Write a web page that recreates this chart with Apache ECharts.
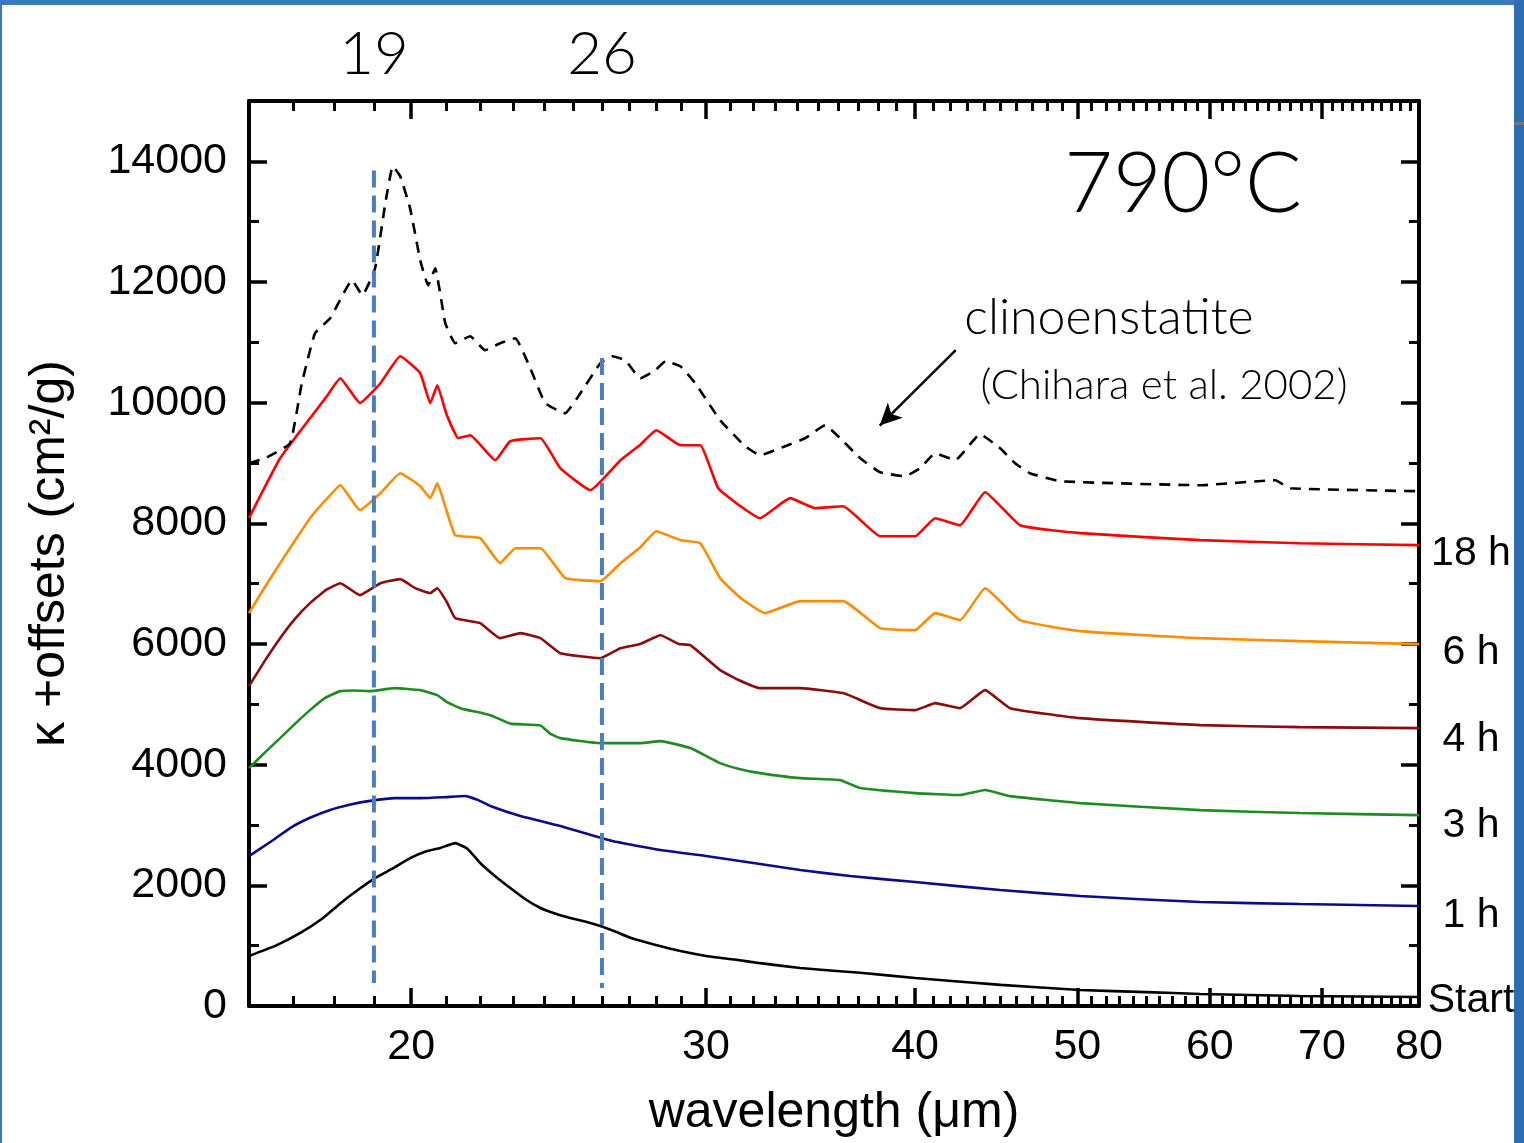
<!DOCTYPE html>
<html>
<head>
<meta charset="utf-8">
<title>790°C κ spectra</title>
<script src="https://cdn.jsdelivr.net/npm/echarts@6/dist/echarts.min.js"></script>
<style>
  html, body { margin: 0; padding: 0; background: #ffffff; }
  #chart { width: 1524px; height: 1143px; }
</style>
</head>
<body>
<div id="chart"></div>
<script>
// Wavelength axis (µm, logarithmic)
const X_MIN = 16, X_MAX = 80;
const xMajorTicks = [20, 30, 40, 50, 60, 70, 80];
const xMinorTicks = [17, 18, 19, 21, 22, 23, 24, 25, 26, 27, 28, 29, 31, 32, 33, 34, 35, 36, 37, 38, 39,
  41, 42, 43, 44, 45, 46, 47, 48, 49, 51, 52, 53, 54, 55, 56, 57, 58, 59, 61, 62, 63, 64, 65, 66, 67, 68, 69,
  71, 72, 73, 74, 75, 76, 77, 78, 79];

// κ + offsets axis (cm²/g)
const Y_MIN = 0, Y_MAX = 15000;
const yMajorTicks = [0, 2000, 4000, 6000, 8000, 10000, 12000, 14000];
const yMinorTicks = [1000, 3000, 5000, 7000, 9000, 11000, 13000];

// Feature wavelengths marked by vertical dashed lines
const featureWl = [19, 26];
const featureTop = [13850, 10740];
const featureBottom = [380, 300];

// Start
const wlStart = [16.0, 16.6, 17.17, 17.7, 18.14, 18.6, 19.03, 19.5, 19.97, 20.4, 20.81, 21.25, 21.6, 21.99,
  22.45, 22.92, 23.4, 23.89, 24.4, 24.89, 25.4, 25.94, 26.5, 27.04, 28.0, 28.96, 30.0, 31.2, 32.32, 34.15,
  37.09, 40.0, 45.0, 50.2, 55.0, 59.2, 67.9, 80];
const kStart = [830, 1000, 1210, 1450, 1700, 1930, 2120, 2280, 2450, 2560, 2620, 2700, 2610, 2370,
  2150, 1955, 1770, 1625, 1530, 1460, 1400, 1325, 1230, 1130, 1010, 910, 830, 770, 710, 630,
  550, 465, 350, 265, 230, 200, 165, 150];

// 1 h
const wl1h = [16.0, 16.5, 16.93, 17.4, 17.89, 18.4, 18.90, 19.56, 20.25, 20.9, 21.54, 21.9, 22.30, 23.24,
  24.55, 26.37, 28.18, 30.0, 32.32, 34.15, 36.58, 40.0, 44.96, 50.2, 59.2, 67.9, 80];
const k1h = [2485, 2730, 2950, 3120, 3250, 3340, 3400, 3446, 3446, 3460, 3480, 3420, 3314, 3148,
  2982, 2734, 2585, 2485, 2353, 2253, 2154, 2054, 1922, 1822, 1723, 1690, 1657];

// 3 h
const wl3h = [16.0, 16.35, 16.70, 17.05, 17.40, 17.75, 18.14, 18.5, 18.90, 19.56, 20.25, 20.73, 21.0, 21.39,
  22.30, 22.92, 23.89, 24.2, 24.55, 25.94, 27.41, 28.18, 29.36, 30.59, 31.4, 32.32, 34.15, 36.08, 37.09,
  40.0, 42.55, 44.04, 45.58, 50.2, 59.2, 67.9, 80];
const k3h = [3943, 4200, 4440, 4680, 4904, 5100, 5219, 5230, 5219, 5269, 5235, 5153, 5040, 4937,
  4821, 4680, 4650, 4520, 4440, 4357, 4357, 4390, 4275, 4026, 3930, 3860, 3777, 3744, 3612,
  3529, 3496, 3579, 3479, 3363, 3247, 3198, 3164];

// 4 h
const wl4h = [16.0, 16.35, 16.70, 17.05, 17.40, 17.8, 18.14, 18.64, 19.17, 19.70, 20.11, 20.53, 20.73, 21.0,
  21.25, 21.99, 22.60, 23.24, 23.89, 24.55, 25.94, 26.67, 27.4, 28.18, 28.9, 29.36, 30.59, 31.4, 32.32, 34.15,
  36.23, 38.12, 40.0, 41.12, 42.55, 44.04, 45.58, 50.2, 59.2, 67.9, 80];
const k4h = [5302, 5720, 6097, 6420, 6677, 6900, 7008, 6809, 7008, 7075, 6925, 6843, 6925, 6700,
  6428, 6345, 6097, 6180, 6097, 5848, 5765, 5931, 6000, 6146, 6000, 5981, 5567, 5400, 5268, 5268,
  5186, 4937, 4904, 5020, 4937, 5235, 4937, 4771, 4655, 4622, 4606];

// 6 h
const wl6h = [16.0, 16.35, 16.70, 17.05, 17.40, 17.8, 18.14, 18.64, 19.17, 19.70, 20.25, 20.53, 20.73, 21.0,
  21.25, 21.99, 22.60, 23.08, 23.89, 24.72, 25.94, 26.67, 27.4, 28.02, 28.96, 29.76, 30.59, 31.5, 32.54,
  34.15, 36.23, 38.12, 40.0, 41.12, 42.55, 44.04, 46.21, 50.2, 59.2, 67.9, 80];
const k6h = [6511, 6940, 7340, 7720, 8085, 8400, 8632, 8218, 8499, 8831, 8615, 8417, 8665, 8200,
  7803, 7754, 7340, 7588, 7588, 7091, 7041, 7340, 7600, 7870, 7721, 7671, 7091, 6750, 6511,
  6710, 6710, 6263, 6230, 6511, 6395, 6925, 6395, 6213, 6097, 6047, 5998];

// 18 h
const wl18h = [16.0, 16.35, 16.70, 17.05, 17.40, 17.8, 18.14, 18.64, 19.17, 19.70, 20.25, 20.53, 20.73,
  21.0, 21.34, 21.69, 22.45, 22.92, 23.89, 24.55, 25.59, 26.67, 27.4, 28.02, 28.96, 29.76, 30.51, 31.4,
  32.32, 33.68, 34.86, 36.23, 38.12, 40.0, 41.12, 42.55, 44.04, 46.21, 50.2, 59.2, 67.9, 80];
const k18h = [8085, 8600, 9079, 9420, 9742, 10100, 10405, 9991, 10322, 10769, 10488, 9991, 10289,
  9800, 9411, 9460, 9046, 9361, 9411, 8914, 8549, 9046, 9300, 9543, 9295, 9295, 8582, 8300,
  8085, 8417, 8251, 8284, 7787, 7787, 8085, 7969, 8516, 7969, 7837, 7721, 7671, 7638];

// Clinoenstatite reference spectrum (Chihara et al. 2002)
const wlClino = [16.0, 16.36, 16.93, 17.2, 17.52, 17.89, 18.44, 18.70, 19.03, 19.30, 19.50, 19.70, 19.97,
  20.25, 20.47, 20.67, 20.96, 21.25, 21.69, 22.14, 22.60, 23.08, 23.56, 24.05, 24.72, 25.24, 25.94, 26.37,
  26.85, 27.41, 27.98, 28.37, 28.96, 29.56, 30.59, 31.66, 32.32, 33.45, 34.39, 35.34, 36.08, 37.09, 38.12,
  39.45, 40.28, 41.12, 42.26, 43.74, 44.96, 45.90, 46.85, 48.83, 59.2, 65.65, 67.02, 80];
const kClino = [8996, 9079, 9328, 10300, 11150, 11399, 12028, 11780, 12227, 13304, 13917, 13751, 13221,
  12360, 11946, 12227, 11316, 10985, 11101, 10869, 10985, 11067, 10570, 9991, 9825, 10156, 10653, 10769,
  10703, 10405, 10537, 10686, 10604, 10322, 9709, 9278, 9129, 9278, 9411, 9626, 9411, 9079, 8847,
  8781, 8914, 9162, 9046, 9477, 9245, 8996, 8831, 8698, 8632, 8715, 8582, 8532];

// Arrow pointing from the annotation to the reference curve
const arrowFrom = [42.3, 10870];
const arrowTo = [38.1, 9620];

const curves = [
  { name: 'Start', wl: wlStart, k: kStart },
  { name: '1 h', wl: wl1h, k: k1h },
  { name: '3 h', wl: wl3h, k: k3h },
  { name: '4 h', wl: wl4h, k: k4h },
  { name: '6 h', wl: wl6h, k: k6h },
  { name: '18 h', wl: wl18h, k: k18h }
];
const curveStyle = {
  'Start': { color: '#000000', dy: 4 },
  '1 h': { color: '#0c0c8a', dy: 10 },
  '3 h': { color: '#1e8c1e', dy: 11 },
  '4 h': { color: '#8a0c0c', dy: 12 },
  '6 h': { color: '#ff8c00', dy: 9 },
  '18 h': { color: '#ff0000', dy: 9 }
};

const AXIS_FONT = '"Liberation Sans", Arial, sans-serif';
const HAND_FONT = 'Lato, "Noto Sans", sans-serif';
const frame = { show: true, onZero: false, lineStyle: { color: '#000', width: 4 } };
const majorTick = { color: '#000', width: 3.5 };
const minorTick = { color: '#000', width: 3 };
const plainNumber = v => String(Math.round(v));

function xAxisPair(position, labelValues, labelStyle) {
  return [
    {
      type: 'log', logBase: 10, position, min: X_MIN, max: X_MAX, gridIndex: 0,
      axisLine: frame,
      axisTick: { show: true, inside: true, length: 18, customValues: xMajorTicks, lineStyle: majorTick },
      axisLabel: Object.assign({ show: labelValues.length > 0, customValues: labelValues, formatter: plainNumber }, labelStyle),
      splitLine: { show: false }, minorTick: { show: false }
    },
    {
      type: 'log', logBase: 10, position, min: X_MIN, max: X_MAX, gridIndex: 0,
      axisLine: { show: false, onZero: false },
      axisTick: { show: true, inside: true, length: 10, customValues: xMinorTicks, lineStyle: minorTick },
      axisLabel: { show: false }, splitLine: { show: false }
    }
  ];
}

function yAxisPair(position, showLabels) {
  return [
    {
      type: 'value', position, min: Y_MIN, max: Y_MAX, gridIndex: 0,
      axisLine: frame,
      axisTick: { show: true, inside: true, length: 18, customValues: yMajorTicks, lineStyle: majorTick },
      axisLabel: {
        show: showLabels, customValues: yMajorTicks, margin: 22, formatter: plainNumber,
        fontFamily: AXIS_FONT, fontSize: 43, color: '#000'
      },
      splitLine: { show: false }
    },
    {
      type: 'value', position, min: Y_MIN, max: Y_MAX, gridIndex: 0,
      axisLine: { show: false, onZero: false },
      axisTick: { show: true, inside: true, length: 10, customValues: yMinorTicks, lineStyle: minorTick },
      axisLabel: { show: false }, splitLine: { show: false }
    }
  ];
}

const xAxes = [
  ...xAxisPair('bottom', xMajorTicks, { margin: 20, fontFamily: AXIS_FONT, fontSize: 43, color: '#000' }),
  ...xAxisPair('top', featureWl, { margin: 16, fontFamily: HAND_FONT, fontSize: 60, fontWeight: 300, color: '#000' })
];
Object.assign(xAxes[0], {
  name: 'wavelength (μm)', nameLocation: 'middle', nameGap: 82,
  nameTextStyle: { fontFamily: AXIS_FONT, fontSize: 50, color: '#000' }
});

const yAxes = [...yAxisPair('left', true), ...yAxisPair('right', false)];
Object.assign(yAxes[0], {
  name: 'κ +offsets (cm²/g)', nameLocation: 'middle', nameGap: 174, nameRotate: 90,
  nameTextStyle: { fontFamily: AXIS_FONT, fontSize: 50, color: '#000' }
});

const series = [];

// Vertical dashed feature markers
featureWl.forEach((w, i) => {
  series.push({
    type: 'line', name: 'feature ' + w, xAxisIndex: 0, yAxisIndex: 0, z: 5,
    data: [[w, featureTop[i]], [w, featureBottom[i]]],
    showSymbol: false, silent: true,
    lineStyle: { color: '#4a7ec0', width: 4, type: [17, 8] }
  });
});

// Measured spectra, labelled at their right ends
curves.forEach(c => {
  const st = curveStyle[c.name];
  series.push({
    type: 'line', name: c.name, xAxisIndex: 0, yAxisIndex: 0, z: 3,
    data: c.wl.map((w, i) => [w, c.k[i]]),
    showSymbol: false, smooth: 0.12,
    lineStyle: { color: st.color, width: 2.6 },
    endLabel: {
      show: true, formatter: c.name, distance: 52, align: 'center',
      offset: [0, st.dy], fontFamily: AXIS_FONT, fontSize: 41, color: '#000'
    }
  });
});

// Reference spectrum (dashed) with arrow annotation
series.push({
  type: 'line', name: 'clinoenstatite', xAxisIndex: 0, yAxisIndex: 0, z: 3,
  data: wlClino.map((w, i) => [w, kClino[i]]),
  showSymbol: false, smooth: 0.12,
  lineStyle: { color: '#000', width: 2.6, type: [11, 8] },
  markLine: {
    silent: true, symbol: ['none', 'arrow'], symbolSize: [16, 22],
    lineStyle: { color: '#000', width: 2.5, type: 'solid' },
    label: { show: false },
    data: [[{ coord: arrowFrom }, { coord: arrowTo }]]
  }
});

const chart = echarts.init(document.getElementById('chart'), null, { renderer: 'canvas' });
chart.setOption({
  animation: false,
  backgroundColor: '#ffffff',
  grid: { left: 249, right: 105, top: 101, bottom: 135, containLabel: false },
  xAxis: xAxes,
  yAxis: yAxes,
  series,
  graphic: [
    // slide frame
    { type: 'rect', shape: { x: 0, y: 0, width: 1524, height: 5 }, style: { fill: '#3c79bb' }, silent: true },
    { type: 'rect', shape: { x: 1514, y: 0, width: 10, height: 1143 }, style: { fill: '#2f6db3' }, silent: true },
    { type: 'rect', shape: { x: 0, y: 0, width: 2, height: 1143 }, style: { fill: '#3c79bb' }, silent: true },
    { type: 'rect', shape: { x: 1514, y: 122, width: 10, height: 3 }, style: { fill: '#777777' }, silent: true },
    // annotations
    { type: 'text', x: 1183, y: 185, style: { text: '790°C', font: '300 84px ' + HAND_FONT, fill: '#000', align: 'center', verticalAlign: 'middle' } },
    { type: 'text', x: 1109, y: 318, style: { text: 'clinoenstatite', font: '300 50px ' + HAND_FONT, fill: '#000', align: 'center', verticalAlign: 'middle' } },
    { type: 'text', x: 1164, y: 385, style: { text: '(Chihara et al. 2002)', font: '300 42px ' + HAND_FONT, fill: '#000', align: 'center', verticalAlign: 'middle' } }
  ]
});
</script>
</body>
</html>
